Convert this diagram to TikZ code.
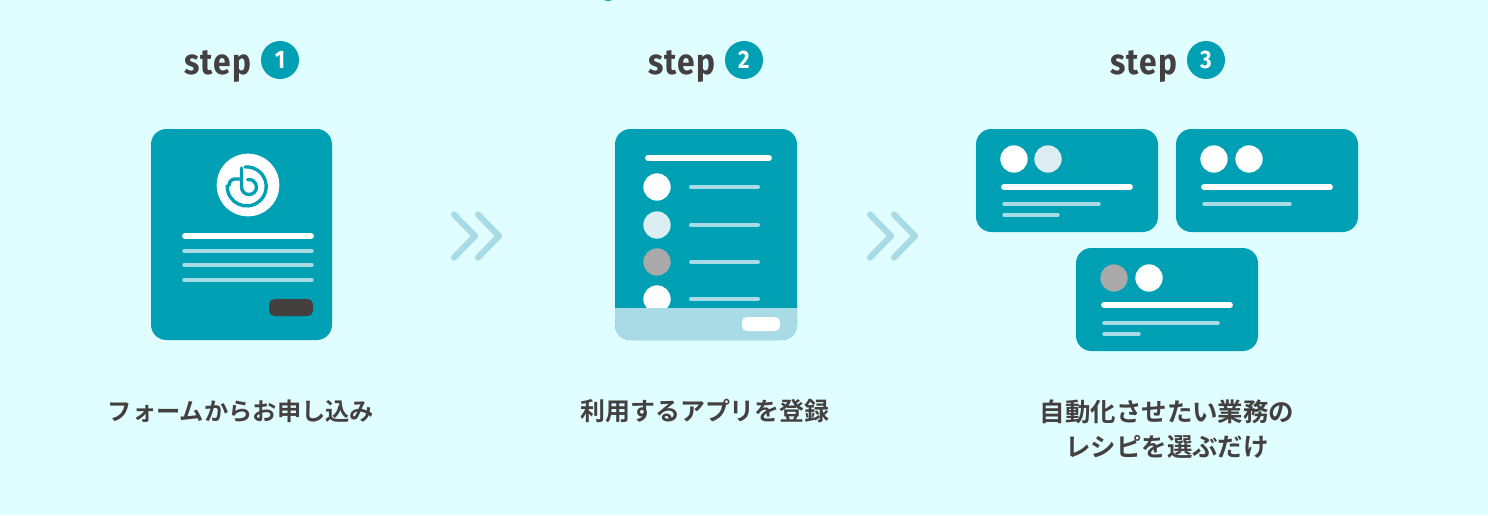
\documentclass[tikz,border=0pt]{standalone}
\usepackage{fontspec}
\setmainfont{Noto Sans CJK JP}[BoldFont={Noto Sans CJK JP Bold}]
\newfontfamily\stepfont{Fira Sans}[FakeStretch=0.88,LetterSpace=4]
\usetikzlibrary{positioning}
\definecolor{tealmain}{HTML}{00A0B4}
\definecolor{tealpale}{HTML}{A8DBE5}
\definecolor{bgpale}{HTML}{E0FDFF}
\definecolor{inkdark}{HTML}{444040}
\definecolor{dotgray}{HTML}{A9A9A9}
\definecolor{dotpale}{HTML}{DCEEF2}
\tikzset{
card/.style={fill=tealmain,rounded corners=11.5pt},
thickline/.style={line width=4.4pt,white,line cap=round},
thinline/.style={line width=2.6pt,tealpale,line cap=round},
dot/.style={circle,inner sep=0pt,minimum size=20.5pt},
stepword/.style={text=inkdark,font=\stepfont\bfseries\fontsize{27}{27}\selectfont,anchor=base,inner sep=0pt},
stepnum/.style={circle,fill=tealmain,text=white,inner sep=0pt,minimum size=28.5pt,font=\stepfont\bfseries\fontsize{19}{19}\selectfont},
caption/.style={text=inkdark,font=\bfseries\fontsize{#1}{26.5}\selectfont,align=center,inner sep=0pt},
chevron/.style={tealpale,line width=4.6pt,line cap=round,line join=round},
}
\begin{document}
\begin{tikzpicture}[x=.75pt,y=-.75pt]
\fill[bgpale] (0,0) rectangle (1488,515);
\useasboundingbox (0,0) rectangle (1488,515);
\clip (0,0) rectangle (1488,515);
\fill[tealmain] (608,-9) circle (10);
% headings
\node[stepword] (word1) at (218,74) {step};
\node[stepnum] (num1) at (280,60) {1};
\node[stepword] (word2) at (682,74) {step};
\node[stepnum] (num2) at (744,60) {2};
\node[stepword] (word3) at (1144,74) {step};
\node[stepnum] (num3) at (1206,60) {3};
% step 1
\fill[card] (151,129) rectangle (332,340);
\node[dot,fill=white,minimum size=47pt] (logo) at (248,185) {};
\begin{scope}[tealmain,line width=2.5pt,line cap=round]
\draw (245,167) arc (-95:180:19.5) -- (229,185) arc (180:270:6) -- (241.5,179);
\draw (241.5,168) -- (241.5,187) arc (180:-100:7.5);
\end{scope}
\draw[thickline] (185,236) -- (311,236);
\foreach \y in {251,265,280} \draw[thinline] (184,\y) -- (312,\y);
\fill[inkdark,rounded corners=4pt] (269,299) rectangle (313,316);
% step 2
\fill[card] (615,129) rectangle (797,340);
\begin{scope}
\clip (615,129) rectangle (797,307);
\foreach \y/\c in {187/white,225/dotpale,262/dotgray,299/white}{
\node[dot,fill=\c] at (657,\y) {};
\draw[thinline,line width=3pt] (691,\y) -- (758,\y);}
\end{scope}
\draw[thickline] (648,158) -- (769,158);
\fill[tealpale,rounded corners=11.5pt] (615,308) -- (797,308) -- (797,340) -- (615,340) -- cycle;
\fill[tealpale] (615,308) rectangle (797,320);
\fill[white,rounded corners=3.5pt] (742,317) rectangle (780,331);
% step 3
\fill[card] (976,129) rectangle (1158,232);
\node[dot,fill=white] at (1014,159) {};
\node[dot,fill=dotpale] at (1048,159) {};
\draw[thickline] (1004,187) -- (1130,187);
\draw[thinline] (1004,204) -- (1099,204);
\draw[thinline] (1004,215) -- (1058,215);
\fill[card] (1176,129) rectangle (1358,232);
\node[dot,fill=white] at (1214,159) {};
\node[dot,fill=white] at (1249,159) {};
\draw[thickline] (1204,187) -- (1330,187);
\draw[thinline] (1204,204) -- (1290,204);
\fill[card] (1076,248) rectangle (1258,351);
\node[dot,fill=dotgray] at (1114,278) {};
\node[dot,fill=white] at (1149,278) {};
\draw[thickline] (1104,305) -- (1230,305);
\draw[thinline] (1104,323) -- (1218,323);
\draw[thinline] (1104,334) -- (1139,334);
% arrows
\foreach \x in {454,478,870,894}
\draw[chevron] (\x,214.5) -- ++(21,21.5) -- ++(-21,21.5);
% captions
\node[caption=18.2] (cap1) at (241,411) {フォームからお申し込み};
\node[caption=18.7] (cap2) at (705,411) {利用するアプリを登録};
\node[caption=19.1] (cap3) at (1167,429) {自動化させたい業務の\\レシピを選ぶだけ};
\end{tikzpicture}
\end{document}
